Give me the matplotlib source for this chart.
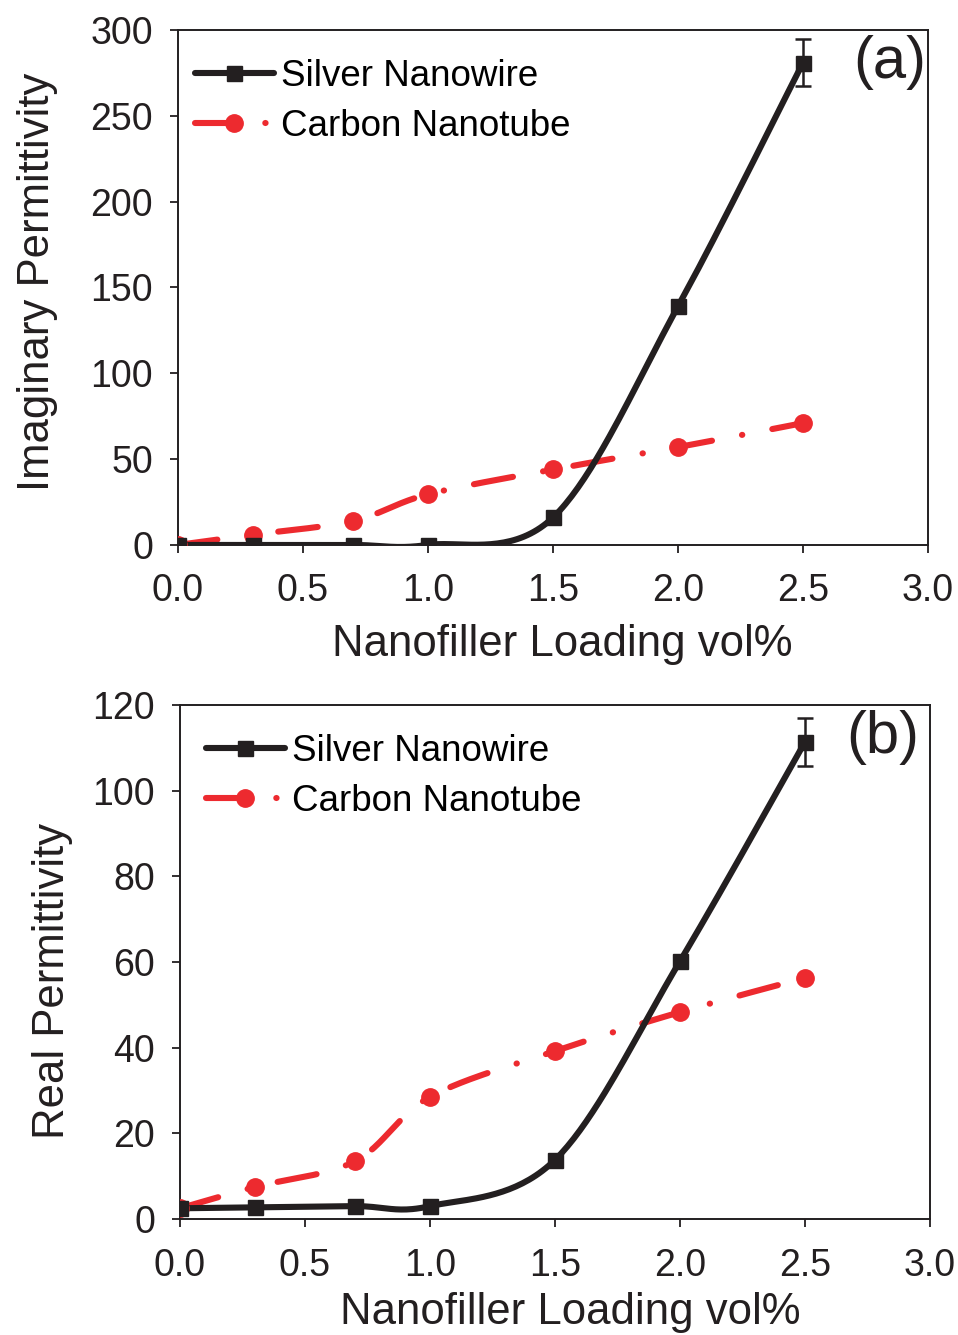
import numpy as np
import matplotlib
matplotlib.use("Agg")
import matplotlib.pyplot as plt

plt.rcParams['font.family'] = ['Liberation Sans', 'DejaVu Sans']

loading = [0.0, 0.3, 0.7, 1.0, 1.5, 2.0, 2.5]
silver_imag = [0.0, 0.0, 0.0, 0.0, 16.0, 139.0, 281.0]
carbon_imag = [0.0, 6.0, 14.0, 29.5, 44.0, 57.0, 71.0]
silver_imag_err = [0, 0, 0, 0, 0, 0, 13.5]
silver_real = [2.5, 2.7, 3.0, 3.0, 13.8, 60.2, 111.4]
carbon_real = [2.5, 7.5, 13.5, 28.5, 39.2, 48.3, 56.3]
silver_real_err = [0, 0, 0, 0, 0, 0, 5.6]

xticks = [0.0, 0.5, 1.0, 1.5, 2.0, 2.5, 3.0]
xlabels = ["0.0", "0.5", "1.0", "1.5", "2.0", "2.5", "3.0"]


def smooth(x, y, n=40):
    x = np.asarray(x, float)
    y = np.asarray(y, float)
    xs, ys = [], []
    N = len(x)
    for i in range(N - 1):
        p0 = (x[max(i - 1, 0)], y[max(i - 1, 0)])
        p1 = (x[i], y[i])
        p2 = (x[i + 1], y[i + 1])
        p3 = (x[min(i + 2, N - 1)], y[min(i + 2, N - 1)])
        c1 = (p1[0] + (p2[0] - p0[0]) / 6, p1[1] + (p2[1] - p0[1]) / 6)
        c2 = (p2[0] - (p3[0] - p1[0]) / 6, p2[1] - (p3[1] - p1[1]) / 6)
        t = np.linspace(0, 1, n, endpoint=(i == N - 2))
        b0 = (1 - t) ** 3
        b1 = 3 * (1 - t) ** 2 * t
        b2 = 3 * (1 - t) * t ** 2
        b3 = t ** 3
        xs.append(b0 * p1[0] + b1 * c1[0] + b2 * c2[0] + b3 * p2[0])
        ys.append(b0 * p1[1] + b1 * c1[1] + b2 * c2[1] + b3 * p2[1])
    return np.concatenate(xs), np.concatenate(ys)


fig = plt.figure(figsize=(9.58, 13.35), dpi=100)
ax1 = fig.add_axes([0.1858, 0.5918, 0.7829, 0.3857])
ax2 = fig.add_axes([0.1879, 0.0869, 0.7829, 0.3850])

black = '#231f20'
red = '#ed2a2f'
LW = 4.4
dash = (0, (6.5, 5, 0.05, 5))


def draw(ax, s, c, err, ymax, ystep, ylabel, tag, leg_x, tag_x,
         xpad, xlpad, xl_x, ylpad, yl_y):
    sx, sy = smooth(loading, s)
    cx, cy = smooth(loading, c)
    ax.plot(cx, cy, color=red, lw=LW, linestyle=dash, dash_capstyle='round', zorder=2)
    ax.plot(sx, sy, color=black, lw=LW, solid_capstyle='round', zorder=3)
    ax.plot(loading, c, 'o', color=red, ms=12.5, zorder=4)
    ax.plot(loading, s, 's', color=black, ms=10.8, zorder=5)
    ax.errorbar(loading[-1:], s[-1:], yerr=err[-1:], fmt='none', ecolor=black,
                elinewidth=1.8, capsize=6, capthick=1.8, zorder=6)
    # legend handles
    h1, = ax.plot([], [], color=black, lw=LW, marker='s', ms=10.8, solid_capstyle='round')
    h2, = ax.plot([], [], color=red, lw=LW, marker='o', ms=12.5, linestyle=dash,
                  dash_capstyle='round')
    ax.legend([h1, h2], ['Silver Nanowire', 'Carbon Nanotube'], loc='upper left',
              bbox_to_anchor=(leg_x, 0.994), frameon=False, fontsize=26.5,
              handlelength=2.15, handletextpad=0.2, labelspacing=0.42, borderaxespad=0.3)
    ax.set_xlim(0, 3.0)
    ax.set_ylim(0, ymax)
    ax.set_xticks(xticks)
    ax.set_xticklabels(xlabels)
    ax.set_yticks(np.arange(0, ymax + 1, ystep))
    ax.tick_params(axis='both', direction='out', length=6, width=1.3, labelsize=27,
                   colors=black)
    ax.tick_params(axis='x', pad=xpad)
    ax.tick_params(axis='y', pad=12)
    for sp in ax.spines.values():
        sp.set_linewidth(1.4)
        sp.set_color(black)
    ax.set_xlabel('Nanofiller Loading vol%', fontsize=31.5, color=black, labelpad=xlpad)
    ax.set_ylabel(ylabel, fontsize=31.5, color=black, labelpad=ylpad)
    ax.xaxis.label.set_x(xl_x)
    ax.yaxis.label.set_y(yl_y)
    ax.text(tag_x, 0.99, tag, transform=ax.transAxes, ha='right', va='top',
            fontsize=43, color=black)


draw(ax1, silver_imag, carbon_imag, silver_imag_err, 300, 50,
     'Imaginary Permittivity', '(a)', -0.012, 0.997,
     14, 11, 0.512, 23, 0.511)
draw(ax2, silver_real, carbon_real, silver_real_err, 120, 20,
     'Real Permittivity', '(b)', 0.0, 0.985,
     15, 6, 0.52, 14, 0.463)

fig.savefig('out.png', dpi=100)
